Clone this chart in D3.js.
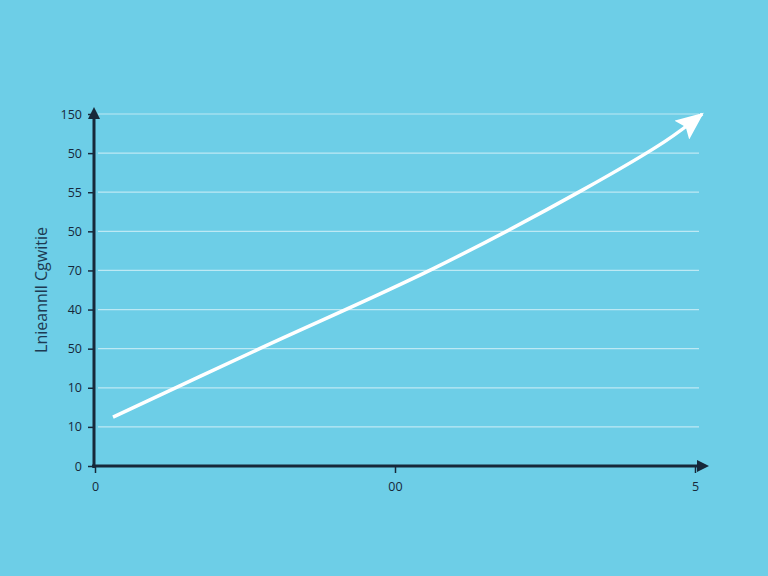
<!DOCTYPE html>
<html>
<head>
<meta charset="utf-8">
<script src="https://cdn.jsdelivr.net/npm/d3@7"></script>
<style>
  html, body { margin:0; padding:0; background:#6dcee7; }
  svg { display:block; }
</style>
</head>
<body>
<div id="chart"></div>
<script>
// tick labels as printed, bottom to top
var yLabels = ["0","10","10","50","40","70","50","55","50","150"];
var xTicks = [0, 5, 10];
var xLabels = ["0","00","5"];
// growth curve
var curveX = [0.3, 2.7, 5.63, 8.13, 9.5, 10.12];
var curveY = [1.25, 2.97, 5.04, 7.06, 8.3, 9.0];
var yTitle = "Lnieannll Cgwitie";

function drawChart(){
  var svgWidth = 768, svgHeight = 576;
  var padL = 95, padR = 695, baseY = 466, topY = 114;

  var svg = d3.select("#chart").append("svg")
    .attr("width", svgWidth)
    .attr("height", svgHeight);

  svg.append("rect")
    .attr("width", svgWidth).attr("height", svgHeight)
    .attr("fill", "#6dcee7");

  var x = d3.scaleLinear().domain([0, 10]).range([padL, padR]);
  var y = d3.scaleLinear().domain([0, yLabels.length - 1]).range([baseY, topY]);

  var axisCol = "#17283a";

  var defs = svg.append("defs");
  defs.append("marker")
    .attr("id", "arrowWhite")
    .attr("markerUnits", "userSpaceOnUse")
    .attr("viewBox", "0 0 28 24")
    .attr("refX", 26).attr("refY", 12)
    .attr("markerWidth", 28).attr("markerHeight", 24)
    .attr("orient", "auto")
    .append("path")
    .attr("d", "M0,0 L28,12 L0,24 L5,12 z")
    .attr("fill", "#ffffff");

  // gridlines
  svg.append("g").selectAll("line")
    .data(d3.range(1, yLabels.length))
    .enter().append("line")
    .attr("x1", padL + 3).attr("x2", padR + 4)
    .attr("y1", function(d){ return y(d); })
    .attr("y2", function(d){ return y(d); })
    .attr("stroke", "#ffffff")
    .attr("stroke-opacity", 0.55)
    .attr("stroke-width", 1.2);

  // y axis
  var yAxis = d3.axisLeft(y)
    .tickValues(d3.range(0, yLabels.length))
    .tickFormat(function(d){ return yLabels[d]; })
    .tickSize(6).tickPadding(6);
  var gy = svg.append("g").attr("transform", "translate(" + (padL - 1) + ",0)").call(yAxis);
  gy.select(".domain").remove();
  gy.selectAll("line").attr("stroke", axisCol).attr("stroke-width", 1.5);
  gy.selectAll("text")
    .attr("fill", axisCol)
    .attr("font-family", "'Open Sans', sans-serif")
    .attr("font-size", 12.5);

  // x axis
  var xAxis = d3.axisBottom(x)
    .tickValues(xTicks)
    .tickFormat(function(d, i){ return xLabels[i]; })
    .tickSize(6).tickPadding(9);
  var gx = svg.append("g").attr("transform", "translate(0," + (baseY + 1) + ")").call(xAxis);
  gx.select(".domain").remove();
  gx.selectAll("line").attr("stroke", axisCol).attr("stroke-width", 1.5);
  gx.selectAll("text")
    .attr("fill", axisCol)
    .attr("font-family", "'Open Sans', sans-serif")
    .attr("font-size", 12.5);

  // axis lines with arrow tips
  svg.append("line")
    .attr("x1", padL - 1).attr("x2", padL - 1)
    .attr("y1", baseY + 2).attr("y2", topY - 2)
    .attr("stroke", axisCol).attr("stroke-width", 3);
  svg.append("path")
    .attr("d", "M" + (padL - 7) + "," + (topY + 5) + " L" + (padL - 1) + "," + (topY - 7) + " L" + (padL + 5) + "," + (topY + 5) + " z")
    .attr("fill", axisCol);

  svg.append("line")
    .attr("x1", padL - 3).attr("x2", x(10) + 6)
    .attr("y1", baseY).attr("y2", baseY)
    .attr("stroke", axisCol).attr("stroke-width", 3);
  svg.append("path")
    .attr("d", "M" + (x(10) + 2) + "," + (baseY - 6) + " L" + (x(10) + 14) + "," + baseY + " L" + (x(10) + 2) + "," + (baseY + 6) + " z")
    .attr("fill", axisCol);

  // y title
  svg.append("text")
    .attr("transform", "translate(47,290) rotate(-90)")
    .attr("text-anchor", "middle")
    .attr("fill", "#1d3a52")
    .attr("font-family", "'Open Sans', sans-serif")
    .attr("font-size", 16)
    .text(yTitle);

  // curve
  var pts = curveX.map(function(d, i){ return [d, curveY[i]]; });
  var line = d3.line()
    .x(function(d){ return x(d[0]); })
    .y(function(d){ return y(d[1]); })
    .curve(d3.curveCatmullRom.alpha(0.5));

  svg.append("path")
    .datum(pts)
    .attr("d", line)
    .attr("fill", "none")
    .attr("stroke", "#ffffff")
    .attr("stroke-width", 3.5)
    .attr("marker-end", "url(#arrowWhite)");
}

drawChart();
</script>
</body>
</html>
